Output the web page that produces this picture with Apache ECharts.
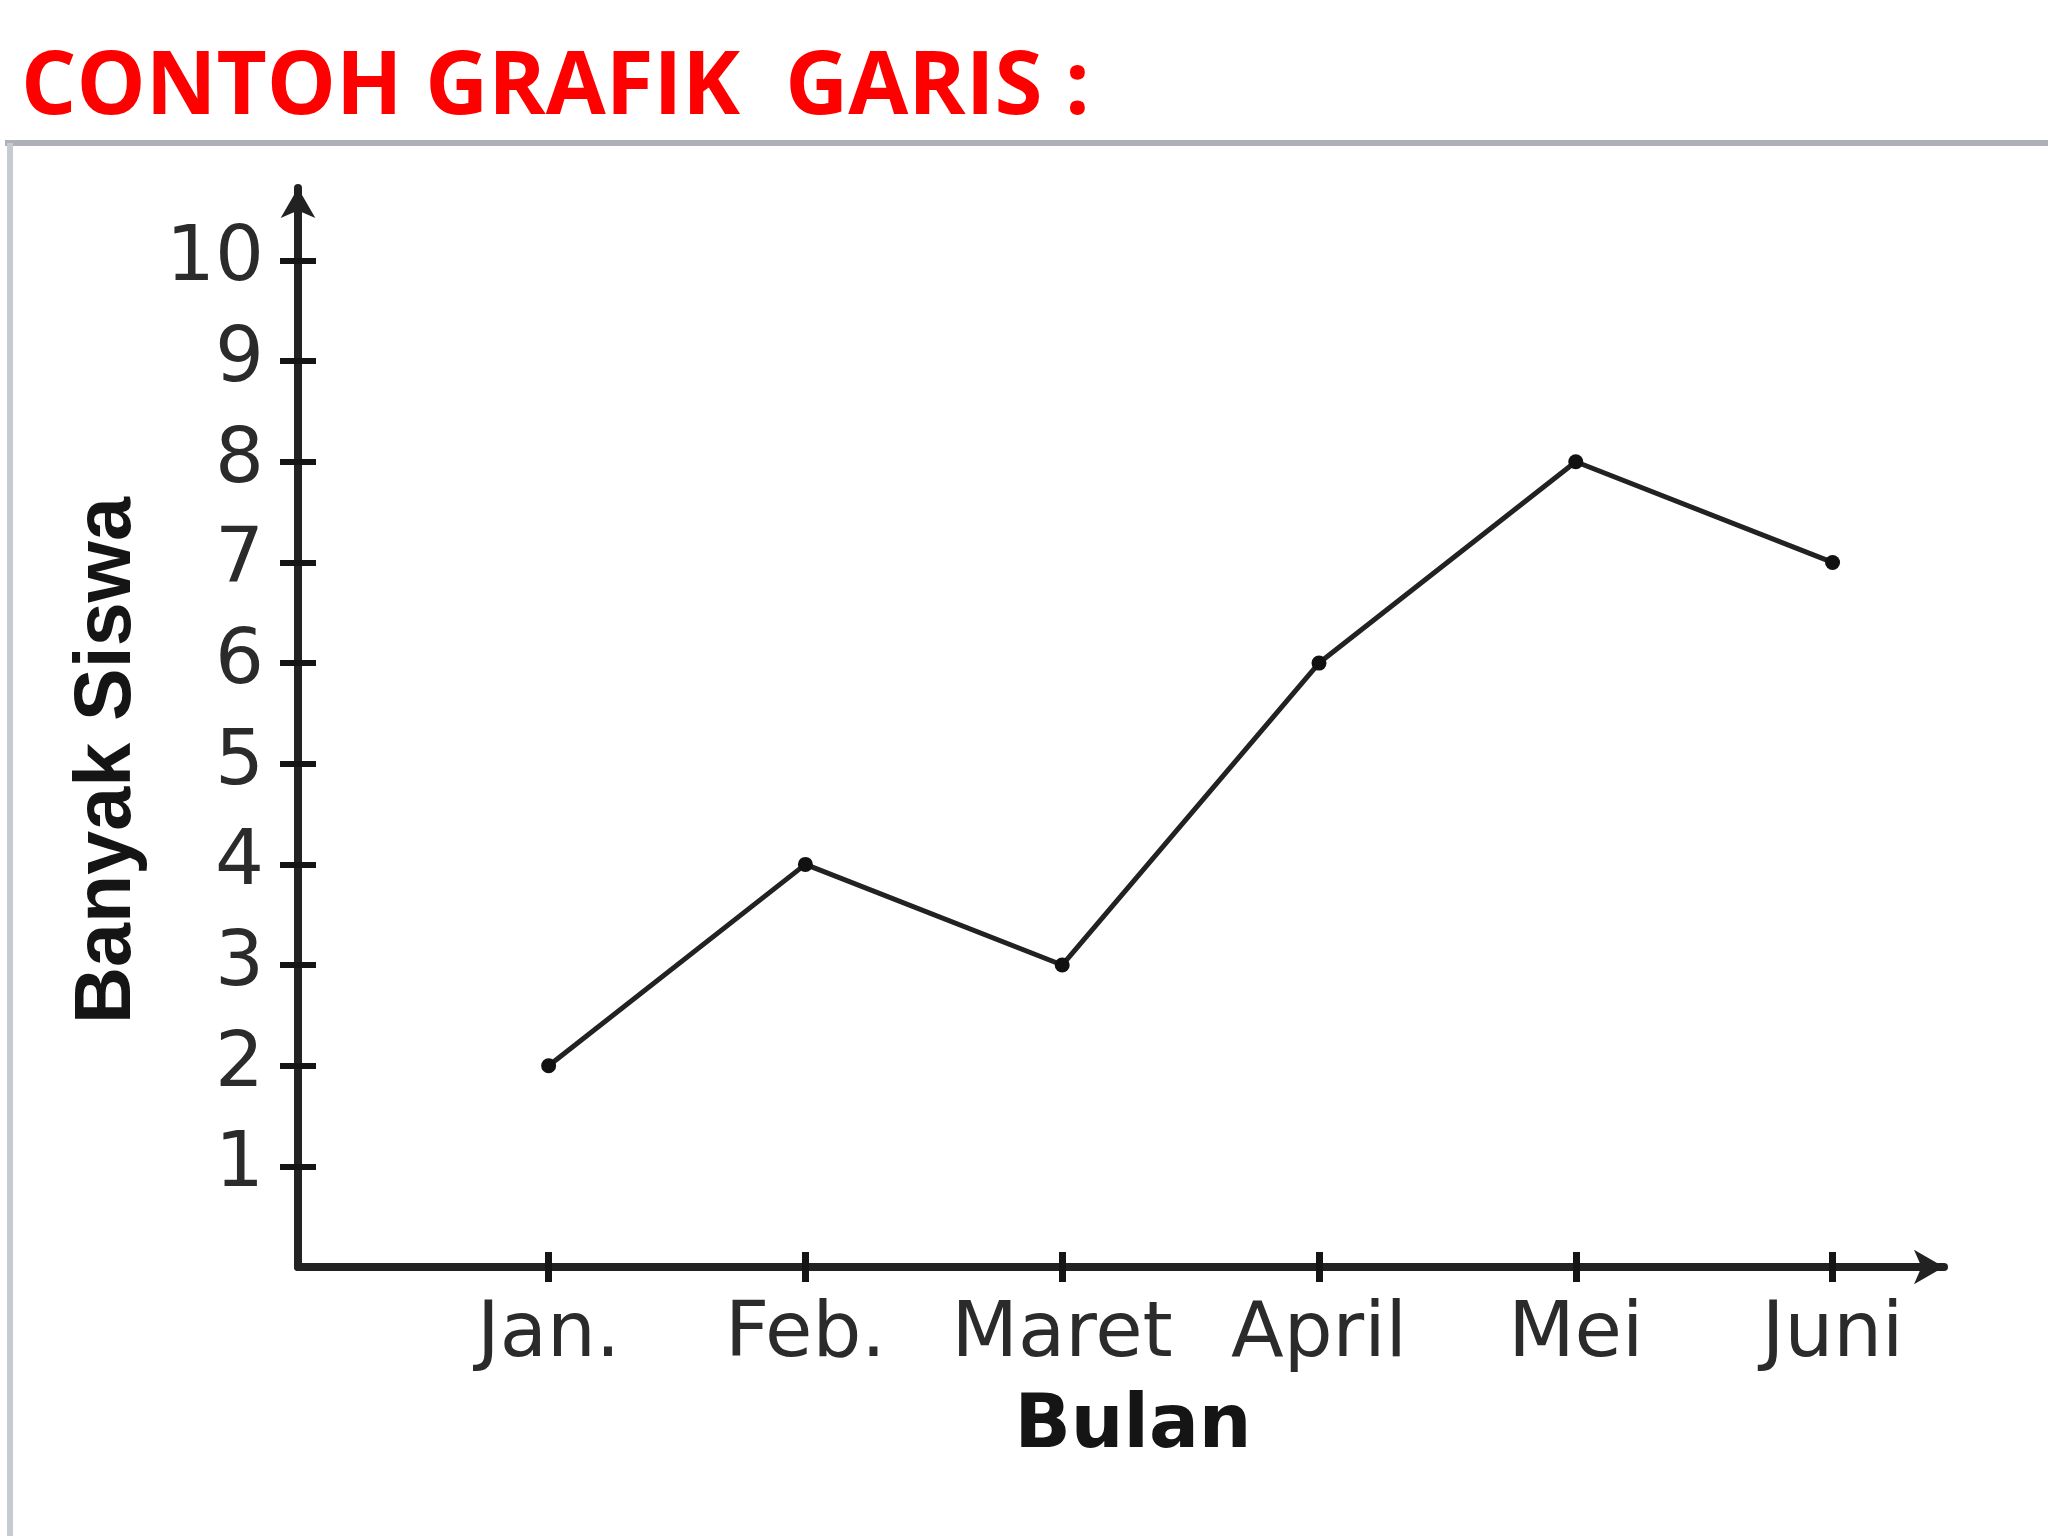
<!DOCTYPE html>
<html>
<head>
  <meta charset="utf-8">
  <script src="https://cdn.jsdelivr.net/npm/echarts@6/dist/echarts.min.js"></script>
  <style>
    html, body { margin: 0; padding: 0; background: #fff; }
    #chart { width: 2048px; height: 1536px; }
  </style>
</head>
<body>
  <div id="chart"></div>
  <script>
    // data
    var months = ['Jan.', 'Feb.', 'Maret', 'April', 'Mei', 'Juni'];
    var students = [2, 4, 3, 6, 8, 7];
    var monthPos = [1, 2, 3, 4, 5, 6];
    var yTicks = [1, 2, 3, 4, 5, 6, 7, 8, 9, 10];

    var points = months.map(function (m, i) { return [monthPos[i], students[i]]; });

    var axisColor = '#222';
    var labelFont = { fontFamily: 'DejaVu Sans', fontSize: 77, color: '#2b2b2b' };

    var chart = echarts.init(document.getElementById('chart'));
    chart.setOption({
      backgroundColor: '#fff',
      animation: false,
      title: {
        text: 'CONTOH GRAFIK  GARIS :',
        left: 16,
        top: 41,
        textStyle: { fontFamily: 'Open Sans', fontWeight: 'bold', fontSize: 87, color: '#ff0000' }
      },
      graphic: [
        { type: 'line', shape: { x1: 5, y1: 143, x2: 2048, y2: 143 }, style: { stroke: '#aeb2b8', lineWidth: 6 } },
        { type: 'line', shape: { x1: 10, y1: 143, x2: 10, y2: 1536 }, style: { stroke: '#c6cbd1', lineWidth: 6 } }
      ],
      grid: { left: 298, right: 104, top: 188, bottom: 269 },
      xAxis: [{
        type: 'value',
        position: 'bottom',
        min: 0.024,
        max: 6.434,
        axisLine: { show: true, symbol: ['none', 'arrow'], symbolSize: [26, 30], lineStyle: { color: axisColor, width: 8 } },
        axisTick: { show: true, customValues: monthPos, length: 15, lineStyle: { color: '#151515', width: 7 } },
        axisLabel: Object.assign({
          customValues: monthPos,
          margin: 30,
          formatter: function (v) { return months[Math.round(v) - 1]; }
        }, labelFont),
        splitLine: { show: false },
        name: 'Bulan',
        nameLocation: 'middle',
        nameGap: 124,
        nameTextStyle: { fontFamily: 'DejaVu Sans', fontWeight: 'bold', fontSize: 74, color: '#151515', padding: [0, 0, 0, 24] }
      }, {
        type: 'value',
        position: 'bottom',
        min: 0.024,
        max: 6.434,
        axisLine: { show: false },
        axisTick: { show: true, inside: true, customValues: monthPos, length: 15, lineStyle: { color: '#151515', width: 7 } },
        axisLabel: { show: false },
        splitLine: { show: false }
      }],
      yAxis: [{
        type: 'value',
        position: 'left',
        min: 0,
        max: 10.72,
        axisLine: { show: true, symbol: ['none', 'arrow'], symbolSize: [26, 30], lineStyle: { color: axisColor, width: 8 } },
        axisTick: { show: true, customValues: yTicks, length: 18, lineStyle: { color: '#151515', width: 6 } },
        axisLabel: Object.assign({ customValues: yTicks, margin: 34 }, labelFont),
        splitLine: { show: false },
        name: 'Banyak Siswa',
        nameLocation: 'middle',
        nameGap: 150,
        nameTextStyle: { fontFamily: 'Liberation Sans', fontWeight: 'bold', fontSize: 79, color: '#151515', padding: [0, 66, 0, 0] }
      }, {
        type: 'value',
        position: 'left',
        min: 0,
        max: 10.72,
        axisLine: { show: false },
        axisTick: { show: true, inside: true, customValues: yTicks, length: 18, lineStyle: { color: '#151515', width: 6 } },
        axisLabel: { show: false },
        splitLine: { show: false }
      }],
      series: [{
        type: 'line',
        data: points,
        symbol: 'circle',
        symbolSize: 15,
        itemStyle: { color: '#111' },
        lineStyle: { color: '#222', width: 5 }
      }]
    });
  </script>
</body>
</html>
